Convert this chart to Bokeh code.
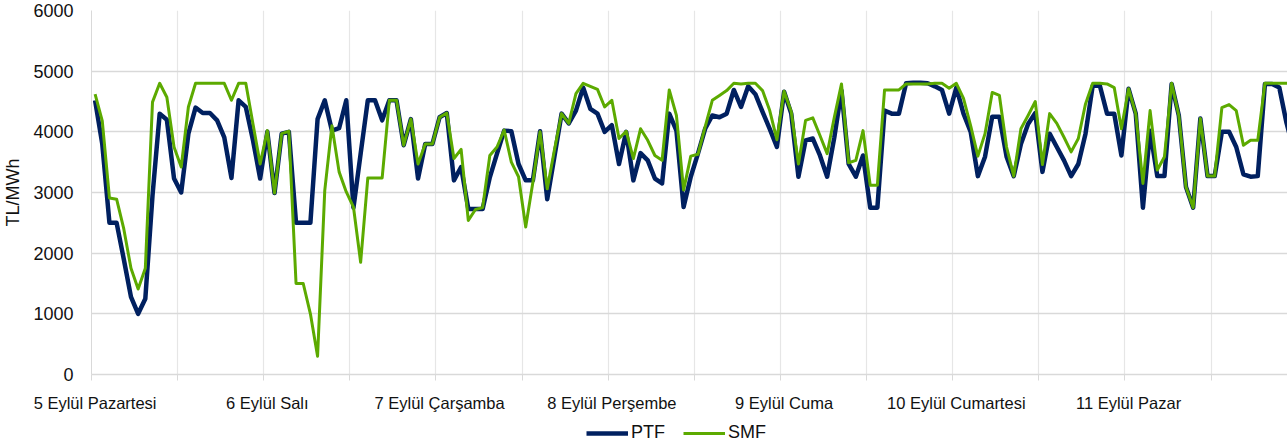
from bokeh.plotting import figure
from bokeh.layouts import column
from bokeh.models import FixedTicker, Range1d, Legend, LegendItem
from bokeh.embed import file_html
from bokeh.resources import INLINE

# ---- data (hourly, 5-11 September) ----
hours = list(range(168))

ptf = [
    4520, 3800, 2500, 2500, 1900, 1280, 1000, 1250, 2950, 4300, 4200, 3230, 3000, 3970, 4400, 4310, 4310, 4190, 3910, 3240, 4520, 4410, 3860, 3230,
    4000, 2990, 3970, 4000, 2500, 2500, 2500, 4210, 4520, 4020, 4060, 4520, 2750, 3640, 4520, 4520, 4190, 4520, 4520, 3780, 4210, 3230, 3800, 3800,
    4240, 4310, 3200, 3420, 2730, 2730, 2730, 3250, 3640, 4020, 4010, 3470, 3200, 3200, 4010, 2890, 3590, 4300, 4140, 4350, 4730, 4380, 4300, 4000,
    4110, 3470, 4000, 3200, 3650, 3530, 3230, 3150, 4300, 4020, 2760, 3260, 3640, 4050, 4270, 4240, 4300, 4690, 4410, 4750, 4620, 4330, 4050, 3750,
    4660, 4300, 3260, 3860, 3890, 3610, 3260, 3910, 4680, 3470, 3260, 3610, 2750, 2750, 4350, 4300, 4300, 4800, 4810, 4810, 4800, 4750, 4690, 4300,
    4730, 4300, 4000, 3270, 3590, 4250, 4250, 3590, 3270, 3800, 4130, 4310, 3340, 3970, 3750, 3530, 3270, 3470, 3970, 4760, 4760, 4300, 4300, 3610,
    4710, 4300, 2750, 4020, 3270, 3270, 4790, 4270, 3090, 2750, 4220, 3270, 3270, 4000, 4000, 3750, 3300, 3260, 3270, 4790, 4790, 4730, 4150, 3700,
]

smf = [
    4620, 4180, 2910, 2890, 2400, 1750, 1410, 1750, 4490, 4800, 4570, 3750, 3420, 4410, 4800, 4800, 4800, 4800, 4800, 4520, 4800, 4800, 4130, 3470,
    4020, 2990, 3970, 4010, 1500, 1500, 1000, 300, 3030, 4100, 3340, 3010, 2760, 1850, 3240, 3240, 3240, 4520, 4520, 3780, 4210, 3470, 3800, 3800,
    4240, 4310, 3560, 3710, 2540, 2720, 2750, 3610, 3750, 4030, 3500, 3260, 2430, 3170, 4000, 3060, 3700, 4300, 4140, 4630, 4800, 4750, 4700, 4410,
    4520, 3890, 4010, 3560, 4050, 3860, 3610, 3530, 4690, 4270, 3040, 3600, 3630, 4080, 4520, 4600, 4680, 4800, 4790, 4800, 4800, 4680, 4350, 3870,
    4670, 4330, 3470, 4190, 4230, 3940, 3640, 4240, 4790, 3490, 3530, 4020, 3120, 3120, 4690, 4690, 4690, 4790, 4790, 4790, 4790, 4800, 4800, 4720,
    4800, 4550, 4100, 3600, 3970, 4650, 4600, 3750, 3270, 4050, 4270, 4500, 3460, 4300, 4140, 3910, 3670, 3890, 4460, 4800, 4800, 4790, 4730, 4050,
    4710, 4300, 3150, 4350, 3370, 3590, 4800, 4270, 3090, 2750, 4220, 3270, 3270, 4400, 4450, 4350, 3780, 3860, 3860, 4800, 4800, 4800, 4800, 4800,
]

day_labels = ["5 Eylül Pazartesi", "6 Eylül Salı", "7 Eylül Çarşamba", "8 Eylül Perşembe",
              "9 Eylül Cuma", "10 Eylül Cumartesi", "11 Eylül Pazar"]
day_ticks = [0, 24, 48, 72, 96, 120, 144]
grid_ticks = [-0.5 + 12 * k for k in range(15)]
y_ticks = [0, 1000, 2000, 3000, 4000, 5000, 6000]

series_names = ["PTF", "SMF"]
series_colors = ["#002060", "#5CAA00"]

FONT = "'Liberation Sans', Arial, sans-serif"
TXT = "#111111"

W = 1287
H_MAIN, H_LEG = 418, 30
LEFT, TOP, BOTTOM = 90, 10, 44
frame_w = W - LEFT
px_per_cat = 7.183
x_end = -0.5 + frame_w / px_per_cat

p = figure(width=W, height=H_MAIN, output_backend="svg", toolbar_location=None,
           x_range=Range1d(-0.5, x_end), y_range=Range1d(0, 6000),
           min_border_left=LEFT, min_border_right=0, min_border_top=TOP,
           min_border_bottom=BOTTOM)
p.outline_line_color = None
p.background_fill_color = "white"
p.border_fill_color = "white"

# x axis
p.xaxis.ticker = FixedTicker(ticks=day_ticks, minor_ticks=grid_ticks)
p.xaxis.major_label_overrides = {t: l for t, l in zip(day_ticks, day_labels)}
p.xaxis.major_tick_line_color = None
p.xaxis.major_tick_out = 0
p.xaxis.major_tick_in = 0
p.xaxis.minor_tick_out = 6
p.xaxis.minor_tick_in = 0
p.xaxis.minor_tick_line_color = "#D9D9D9"
p.xaxis.axis_line_color = "#D9D9D9"
p.xaxis.axis_line_width = 1.3
p.xaxis.major_label_standoff = 13
p.xaxis.major_label_text_font = FONT
p.xaxis.major_label_text_font_size = "16.5px"
p.xaxis.major_label_text_color = TXT

# y axis
p.yaxis.ticker = FixedTicker(ticks=y_ticks)
p.yaxis.major_tick_out = 0
p.yaxis.major_tick_in = 0
p.yaxis.minor_tick_line_color = None
p.yaxis.axis_line_color = "#D9D9D9"
p.yaxis.major_label_standoff = 18
p.yaxis.major_label_text_font = FONT
p.yaxis.major_label_text_font_size = "18px"
p.yaxis.major_label_text_color = TXT
p.yaxis.axis_label = "TL/MWh"
p.yaxis.axis_label_standoff = 7
p.yaxis.axis_label_text_font = FONT
p.yaxis.axis_label_text_font_size = "18px"
p.yaxis.axis_label_text_font_style = "normal"
p.yaxis.axis_label_text_color = TXT

# grids
p.xgrid.ticker = FixedTicker(ticks=grid_ticks)
p.xgrid.grid_line_color = "#E6E6E6"
p.xgrid.grid_line_width = 1.2
p.ygrid.grid_line_color = "#D9D9D9"
p.ygrid.grid_line_width = 1.3

p.line(hours, ptf, line_color=series_colors[0], line_width=4.5, line_join="round")
p.line(hours, smf, line_color=series_colors[1], line_width=3, line_join="round")

# ---- legend strip below the chart (frames are aligned by the column layout) ----
lg = figure(width=W, height=H_LEG, output_backend="svg", toolbar_location=None,
            x_axis_type=None, y_axis_type=None, min_border=0,
            min_border_left=LEFT, min_border_right=0,
            x_range=Range1d(0, 1), y_range=Range1d(0, 1))
lg.outline_line_color = None
lg.grid.visible = False
lg.background_fill_color = "white"
lg.border_fill_color = "white"
# swatch renderers kept outside the visible range; only their legend glyphs show
lr1 = lg.line([5, 6], [5, 6], line_color=series_colors[0], line_width=4.5)
lr2 = lg.line([5, 6], [5, 6], line_color=series_colors[1], line_width=3)
legend = Legend(items=[LegendItem(label=series_names[0], renderers=[lr1]),
                       LegendItem(label=series_names[1], renderers=[lr2])],
                orientation="horizontal", location=(585 - LEFT, 5),
                glyph_width=42, glyph_height=20, label_standoff=3, spacing=18,
                padding=0, margin=0, border_line_color=None,
                background_fill_alpha=0,
                label_text_font=FONT, label_text_font_size="18px",
                label_text_color=TXT)
lg.add_layout(legend)

layout = column(p, lg, spacing=0)
open("out.html", "w").write(file_html(layout, INLINE))
